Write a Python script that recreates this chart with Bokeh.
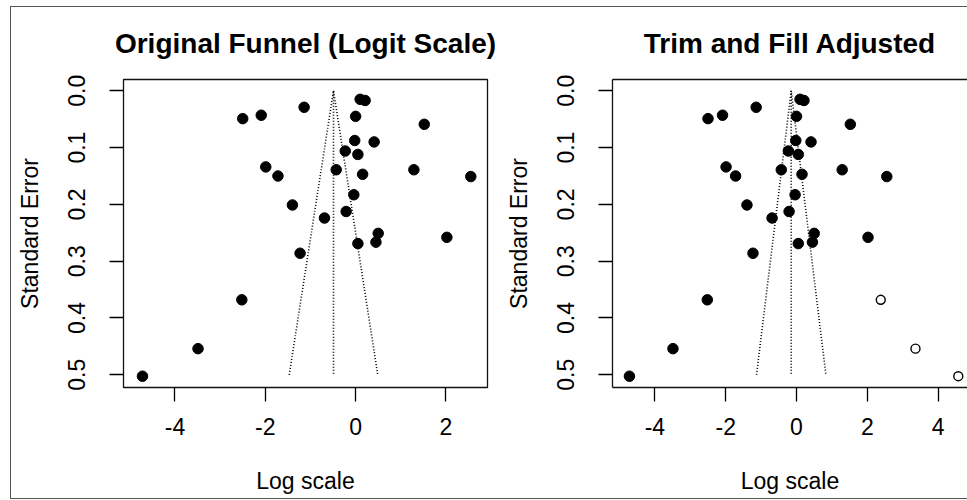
from bokeh.plotting import figure
from bokeh.layouts import row
from bokeh.models import Range1d, FixedTicker, LinearAxis
from bokeh.embed import file_html
from bokeh.resources import INLINE

# ---- data ----
effect_obs = [-2.50, -2.09, -1.14, 0.10, 0.21, 0.00, 1.52, -0.02, 0.41, -0.23,
              0.05, -1.99, -0.43, 1.29, -1.72, 0.155, 2.55, -1.40, -0.04, -0.21,
              -0.69, 0.50, 0.45, 0.05, 2.02, -1.23, -2.52, -3.49, -4.72]
se_obs = [0.049, 0.043, 0.029, 0.015, 0.017, 0.045, 0.059, 0.0875, 0.090, 0.106,
          0.112, 0.134, 0.139, 0.139, 0.150, 0.147, 0.151, 0.201, 0.183, 0.2125,
          0.224, 0.251, 0.2665, 0.269, 0.258, 0.286, 0.368, 0.454, 0.5025]
effect_fill = [2.38, 3.36, 4.57]
se_fill = [0.368, 0.454, 0.5025]
funnel_center = [-0.49, -0.15]   # original, trim-and-fill estimate
funnel_se_max = 0.5
z_crit = 1.96
titles = ["Original Funnel (Logit Scale)", "Trim and Fill Adjusted"]
x_ticks = [[-4, -2, 0, 2], [-4, -2, 0, 2, 4]]
x_tick_labels = [["-4", "-2", "0", "2"], ["-4", "-2", "0", "2", "4"]]
y_ticks = [0.0, 0.1, 0.2, 0.3, 0.4, 0.5]
y_tick_labels = ["0.0", "0.1", "0.2", "0.3", "0.4", "0.5"]
x_label = "Log scale"
y_label = "Standard Error"

FONT = "Liberation Sans"
FRAME_H = 308
Y_RANGE = (0.5224, -0.0199)   # bottom, top (reversed axis)


def style_axis(ax, ticks, labels, standoff, label_standoff):
    ax.ticker = FixedTicker(ticks=ticks)
    ax.major_label_overrides = {t: l for t, l in zip(ticks, labels)}
    ax.minor_tick_line_color = None
    ax.major_tick_in = 0
    ax.major_tick_out = 14
    ax.major_tick_line_color = "black"
    ax.major_tick_line_width = 1.3
    ax.major_label_text_font = FONT
    ax.major_label_text_font_size = "23px"
    ax.major_label_text_color = "black"
    ax.major_label_standoff = standoff
    ax.axis_label_text_font = FONT
    ax.axis_label_text_font_size = "23px"
    ax.axis_label_text_font_style = "normal"
    ax.axis_label_text_color = "black"
    ax.axis_label_text_line_height = 1.0
    ax.axis_label_standoff = label_standoff


def make_panel(idx, xr, frame_w, border_right, full_box):
    p = figure(width=112 + frame_w + border_right, height=491,
               frame_width=frame_w, frame_height=FRAME_H,
               min_border_left=112, min_border_right=border_right,
               min_border_top=72, min_border_bottom=111,
               x_range=Range1d(*xr), y_range=Range1d(*Y_RANGE),
               output_backend="svg", toolbar_location=None,
               background_fill_color="white", border_fill_color="white")
    p.grid.visible = False
    p.title.text = titles[idx]
    p.title.align = "center"
    p.title.vertical_align = "top"
    p.title.text_font = FONT
    p.title.text_font_size = "28px"
    p.title.text_font_style = "bold"
    p.title.text_color = "black"
    p.title.standoff = 37

    style_axis(p.xaxis[0], x_ticks[idx], x_tick_labels[idx], 16, 30)
    style_axis(p.yaxis[0], y_ticks, y_tick_labels, 24, 23)
    p.xaxis.axis_label = x_label
    p.yaxis.axis_label = y_label
    p.yaxis.major_label_orientation = "vertical"

    if full_box:
        p.outline_line_color = "#111111"
        p.outline_line_width = 1.3
        p.xaxis.axis_line_color = None
        p.yaxis.axis_line_color = None
    else:
        p.outline_line_color = None
        p.xaxis.axis_line_color = "#111111"
        p.xaxis.axis_line_width = 1.3
        p.yaxis.axis_line_color = "#111111"
        p.yaxis.axis_line_width = 1.3
        top = LinearAxis(ticker=FixedTicker(ticks=[]), major_tick_out=0,
                         major_tick_in=0, minor_tick_line_color=None,
                         major_label_text_font_size="0px",
                         major_label_standoff=0,
                         axis_line_color="#111111", axis_line_width=1.3)
        p.add_layout(top, "above")

    c = funnel_center[idx]
    dash = dict(line_color="black", line_width=1.6, line_dash="1 2")
    p.line([c - z_crit * funnel_se_max, c, c + z_crit * funnel_se_max],
           [funnel_se_max, 0.0, funnel_se_max], **dash)
    p.line([c, c], [0.0, funnel_se_max], **dash)

    p.scatter(effect_obs, se_obs, marker="circle", size=10.5,
              fill_color="black", line_color="black")
    if idx == 1:
        p.scatter(effect_fill, se_fill, marker="circle", size=9,
                  fill_color="white", line_color="black", line_width=1.4)
    return p


p1 = make_panel(0, (-5.14, 2.92), 364, 13, True)
p2 = make_panel(1, (-5.198, 4.83), 355, 0, False)

layout = row(p1, p2, styles={
    "margin-left": "10px", "margin-top": "6px",
    "border-left": "1px solid #555555",
    "border-top": "1px solid #555555",
    "border-bottom": "1px solid #555555",
})

open("out.html", "w").write(file_html(layout, INLINE))
